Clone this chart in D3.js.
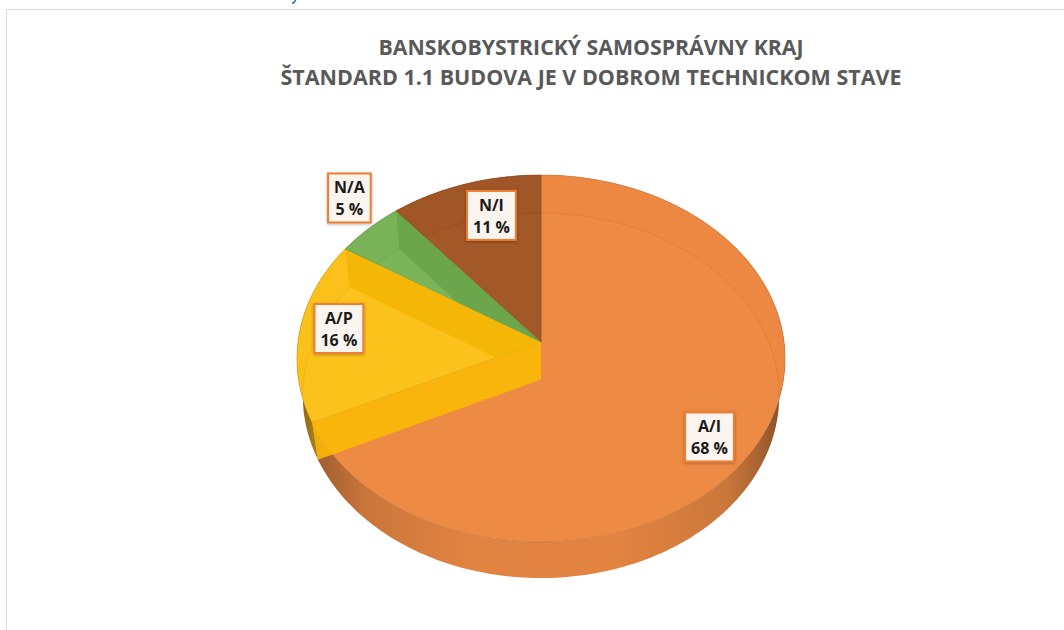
<!DOCTYPE html>
<html>
<head>
<meta charset="utf-8">
<script src="https://cdn.jsdelivr.net/npm/d3@7"></script>
<style>
  body { margin: 0; background: #fff; }
  svg { display: block; }
  text { font-family: "Open Sans", "Noto Sans", sans-serif; }
</style>
</head>
<body>
<svg id="chart" width="1064" height="630"></svg>
<script>
// chart data
const categories = ["A/I", "A/P", "N/A", "N/I"];
const shares = [68, 16, 5, 11];
const pctLabels = ["68 %", "16 %", "5 %", "11 %"];
const sliceColors = ["#ED8A44", "#FCC21C", "#7BB559", "#A35828"];
const titleLines = ["BANSKOBYSTRICKÝ SAMOSPRÁVNY KRAJ", "ŠTANDARD 1.1 BUDOVA JE V DOBROM TECHNICKOM STAVE"];

const svg = d3.select("#chart");
const defs = svg.append("defs");

// frame of the sheet
svg.append("line").attr("x1", 6).attr("x2", 1064).attr("y1", 9.5).attr("y2", 9.5)
  .attr("stroke", "#d9d9d9");
svg.append("line").attr("x1", 6.5).attr("x2", 6.5).attr("y1", 9).attr("y2", 630)
  .attr("stroke", "#d9d9d9");
// tail of a blue cell glyph cut off above the chart
svg.append("path").attr("d", "M295.5,0 Q294.5,3 292,3.2")
  .attr("fill", "none").attr("stroke", "#2E74B5").attr("stroke-width", 1.6);

// title
const titleWidths = [425, 621];
svg.selectAll(".title").data(titleLines).enter().append("text")
  .attr("class", "title")
  .attr("x", 591)
  .attr("y", (d, i) => 55 + i * 30)
  .attr("text-anchor", "middle")
  .attr("font-size", 21)
  .attr("font-weight", "bold")
  .attr("fill", "#595959")
  .attr("textLength", (d, i) => titleWidths[i])
  .attr("lengthAdjust", "spacingAndGlyphs")
  .text(d => d);

// 3d projection of the pie (unit radius disc, seen from above with perspective)
const cx = 541, cy = 342;
const tilt = 48.5 * Math.PI / 180, sT = Math.sin(tilt), cT = Math.cos(tilt);
const camDist = 7.36, focal = 1789, depth = 0.239;

function proj(r, a, y) {
  const X = r * Math.sin(a), Z = -r * Math.cos(a);
  const yc = y * cT - Z * sT;
  const zc = camDist - (Z * cT + y * sT);
  return [cx + focal * X / zc, cy - focal * yc / zc];
}

function arcPts(a0, a1, y) {
  const n = Math.max(2, Math.ceil(Math.abs(a1 - a0) / (Math.PI / 180)));
  return d3.range(n + 1).map(k => proj(1, a0 + (a1 - a0) * k / n, y));
}

const line = d3.line();
const closed = pts => line(pts) + "Z";

const pie = d3.pie().sort(null).value(d => d);
const slices = pie(shares).map((d, i) => ({ ...d, i, color: sliceColors[i] }));

const topPath = d => closed([proj(0, 0, 0)].concat(arcPts(d.startAngle, d.endAngle, 0)));
const sidePath = d => closed(arcPts(d.startAngle, d.endAngle, 0)
  .concat(arcPts(d.endAngle, d.startAngle, -depth)));
const wallPath = a => closed([proj(0, a, 0), proj(1, a, 0), proj(1, a, -depth), proj(0, a, -depth)]);
const bottomArc = d => line(arcPts(d.startAngle, d.endAngle, -depth));

// clip paths
slices.forEach(d => {
  defs.append("clipPath").attr("id", "top-" + d.i).append("path").attr("d", topPath(d));
});
const solid = defs.append("clipPath").attr("id", "solid");
solid.append("path").attr("d", closed(arcPts(0, 2 * Math.PI, 0)));
solid.append("path").attr("d", closed(arcPts(0, 2 * Math.PI, -depth)));
solid.append("path").attr("d", sidePath({ startAngle: 0, endAngle: 2 * Math.PI }));

// side gradients, dark at the left and right rims
const xLeft = proj(1, 1.5 * Math.PI, 0)[0], xRight = proj(1, 0.5 * Math.PI, 0)[0];
const shade = [[0, 0.42], [0.03, 0.58], [0.14, 0.82], [0.35, 0.94], [0.65, 0.95], [0.88, 0.83], [0.96, 0.62], [1, 0.45]];
slices.forEach(d => {
  const g = defs.append("linearGradient").attr("id", "side-" + d.i)
    .attr("gradientUnits", "userSpaceOnUse")
    .attr("x1", xLeft).attr("x2", xRight).attr("y1", 0).attr("y2", 0);
  const mix = d3.interpolateRgb("#2b1a10", d.color);
  shade.forEach(s => g.append("stop").attr("offset", s[0]).attr("stop-color", mix(s[1])));
});

const pieG = svg.append("g");

// outer sides
pieG.selectAll(".side").data(slices).enter().append("path")
  .attr("class", "side")
  .attr("d", sidePath)
  .attr("fill", d => `url(#side-${d.i})`);

// top faces
pieG.selectAll(".top").data(slices).enter().append("path")
  .attr("class", "top")
  .attr("d", topPath)
  .attr("fill", d => d.color)
  .attr("stroke", d => d3.rgb(d.color).darker(0.7))
  .attr("stroke-width", 0.7)
  .attr("stroke-opacity", 0.7)
  .attr("stroke-linejoin", "round");

// back rim seen through the semi transparent top
pieG.selectAll(".strip").data(slices).enter().append("path")
  .attr("class", "strip")
  .attr("d", sidePath)
  .attr("clip-path", d => `url(#top-${d.i})`)
  .attr("fill", d => { const c = d3.hsl(d.color); c.l -= 0.08; return c; })
  .attr("fill-opacity", 0.07);

pieG.selectAll(".rim").data(slices).enter().append("path")
  .attr("class", "rim")
  .attr("d", bottomArc)
  .attr("clip-path", d => `url(#top-${d.i})`)
  .attr("fill", "none")
  .attr("stroke", d => d3.rgb(d.color).darker(0.6))
  .attr("stroke-opacity", 0.3)
  .attr("stroke-width", 0.9);

// inner walls between slices
const wallColor = (c, dl) => { const h = d3.hsl(c); h.l -= dl; return h; };
slices.forEach((d, k) => {
  const a = d.endAngle;
  if (Math.cos(a) > 0) {
    // back wall, seen through the slice's own top
    pieG.append("path").attr("d", wallPath(a))
      .attr("clip-path", `url(#top-${d.i})`)
      .attr("fill", wallColor(d.color, 0.07))
      .attr("fill-opacity", 0.8);
  } else {
    // front wall of the next slice, seen through this one
    const next = slices[(k + 1) % slices.length];
    pieG.append("path").attr("d", wallPath(a))
      .attr("clip-path", "url(#solid)")
      .attr("fill", wallColor(next.color, 0.05))
      .attr("fill-opacity", 0.88);
  }
});

// data labels
const shadow = defs.append("filter").attr("id", "shadow")
  .attr("x", "-30%").attr("y", "-30%").attr("width", "160%").attr("height", "160%");
shadow.append("feDropShadow").attr("dx", 0).attr("dy", 1).attr("stdDeviation", 1.6)
  .attr("flood-color", "#000").attr("flood-opacity", 0.3);

const labelSpots = [{ da: 4.7, r: 0.83 }, { da: 1.3, r: 0.84 }, { da: 3.6, r: 1.2 }, { da: 3.4, r: 0.77 }];

const lab = svg.selectAll(".lab").data(slices).enter().append("g")
  .attr("class", "lab")
  .attr("transform", d => {
    const s = labelSpots[d.i];
    const mid = (d.startAngle + d.endAngle) / 2 + s.da * Math.PI / 180;
    const p = proj(s.r, mid, 0);
    return `translate(${p[0]},${p[1]})`;
  });

lab.append("rect")
  .attr("fill", "#FCF4EE")
  .attr("stroke", "#ED7D31")
  .attr("stroke-width", 2)
  .attr("filter", "url(#shadow)");

lab.append("text").attr("class", "l1")
  .attr("y", -5).attr("text-anchor", "middle")
  .attr("font-size", 16).attr("font-weight", "bold").attr("fill", "#1a1a1a")
  .text(d => categories[d.i]);
lab.append("text").attr("class", "l2")
  .attr("y", 17).attr("text-anchor", "middle")
  .attr("font-size", 16).attr("font-weight", "bold").attr("fill", "#1a1a1a")
  .text(d => pctLabels[d.i]);

lab.each(function () {
  const g = d3.select(this);
  const w = Math.max(g.select(".l1").node().getComputedTextLength(),
                     g.select(".l2").node().getComputedTextLength()) + 12;
  g.select("rect").attr("x", -w / 2).attr("y", -25).attr("width", w).attr("height", 49);
});
</script>
</body>
</html>
